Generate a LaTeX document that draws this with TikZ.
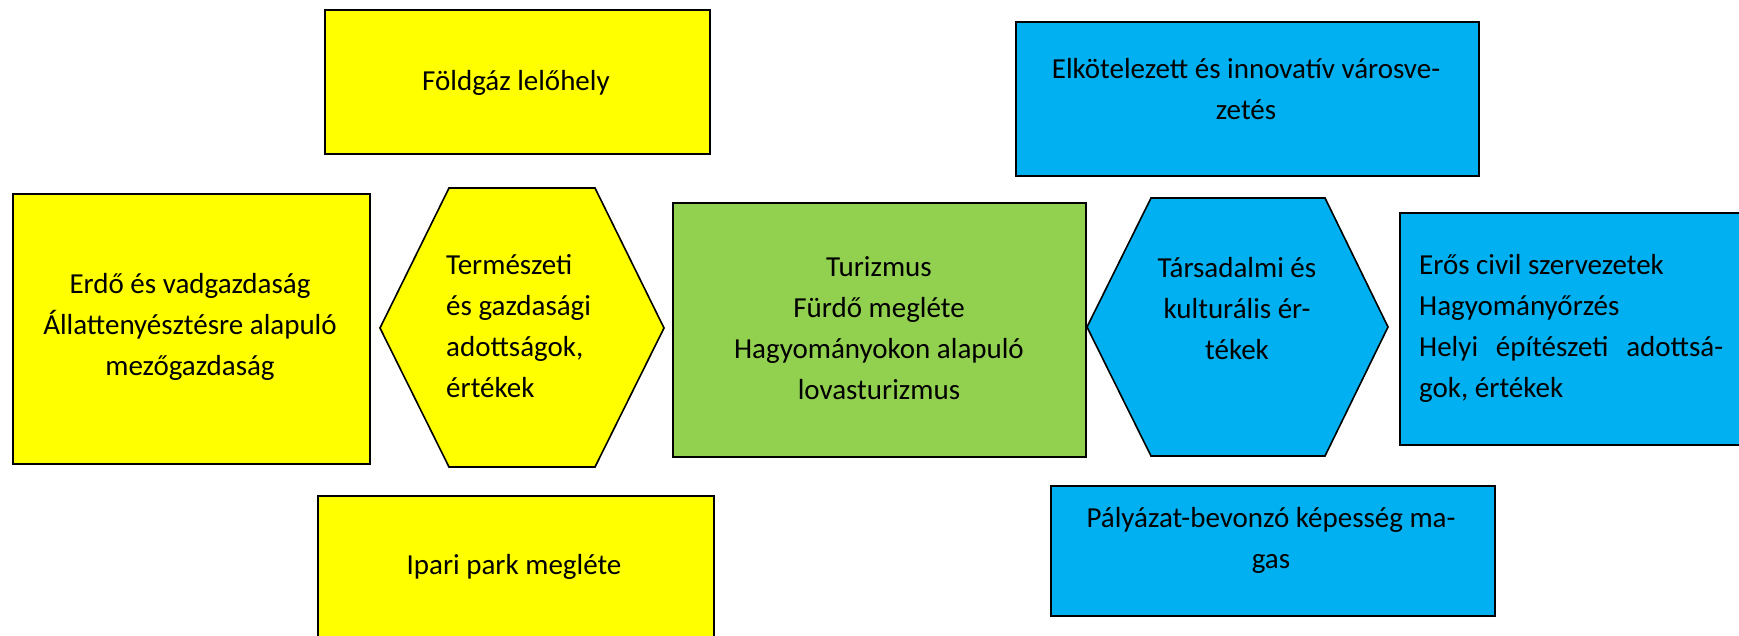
\documentclass[tikz,border=0pt]{standalone}
\usepackage{fontspec}
\setmainfont{Carlito}
\definecolor{ylw}{HTML}{FFFF00}
\definecolor{grn}{HTML}{92D050}
\definecolor{blu}{HTML}{00B0F0}
\tikzset{
  shp/.style={draw=black, line width=1.6pt, line join=miter},
  boxnode/.style={shp, rectangle, inner sep=0pt, anchor=north west},
  txt/.style={inner sep=0pt, font=\fontsize{29}{41}\selectfont, align=center},
  ltxt/.style={inner sep=0pt, font=\fontsize{29}{41}\selectfont, align=left, anchor=west},
}
\begin{document}
\begin{tikzpicture}[x=1pt,y=-1pt]
\useasboundingbox (0,0) rectangle (1739,636);
\clip (0,0) rectangle (1739,636);
% yellow boxes
\node[boxnode, fill=ylw, minimum width=385pt, minimum height=144pt] (foldgaz) at (324,9) {};
\node[txt] (foldgaz-t) at (516,83) {Földgáz lelőhely};
\node[boxnode, fill=ylw, minimum width=357pt, minimum height=270pt] (erdo) at (12,193) {};
\node[txt] (erdo-t) at (190,327) {Erdő és vadgazdaság\\Állattenyésztésre alapuló\\mezőgazdaság};
\node[boxnode, fill=ylw, minimum width=396pt, minimum height=170pt] (ipari) at (317,495) {};
\node[txt] (ipari-t) at (514,567) {Ipari park megléte};
% left hexagon
\draw[shp, fill=ylw] (380,328) -- (449,188) -- (595,188) -- (664,328) -- (595,467) -- (449,467) -- cycle;
\node[ltxt] (termt) at (446,326) {Természeti\\és gazdasági\\adottságok,\\értékek};
% green box
\node[boxnode, fill=grn, minimum width=413pt, minimum height=254pt] (turizmus) at (672,202) {};
\node[txt] (turizmus-t) at (879,328) {Turizmus\\Fürdő megléte\\Hagyományokon alapuló\\lovasturizmus};
% blue hexagon
\draw[shp, fill=blu] (1087,327) -- (1151,198) -- (1325,198) -- (1388,327) -- (1325,456) -- (1151,456) -- cycle;
\node[txt] (tars-t) at (1237,309) {Társadalmi és\\kulturális ér-\\tékek};
% blue boxes
\node[boxnode, fill=blu, minimum width=463pt, minimum height=154pt] (elkot) at (1015,21) {};
\node[txt] (elkot-t) at (1246,89) {Elkötelezett és innovatív városve-\\zetés};
\node[boxnode, fill=blu, minimum width=380pt, minimum height=232pt] (eros) at (1399,212) {};
\node[ltxt] (eros-t) at (1419,328) {Erős civil szervezetek\\Hagyományőrzés\\\makebox[304pt][s]{Helyi építészeti adottsá-}\\gok, értékek};
\node[boxnode, fill=blu, minimum width=444pt, minimum height=130pt] (palyazat) at (1050,485) {};
\node[txt] (palyazat-t) at (1271,540) {Pályázat-bevonzó képesség ma-\\gas};
\end{tikzpicture}
\end{document}
